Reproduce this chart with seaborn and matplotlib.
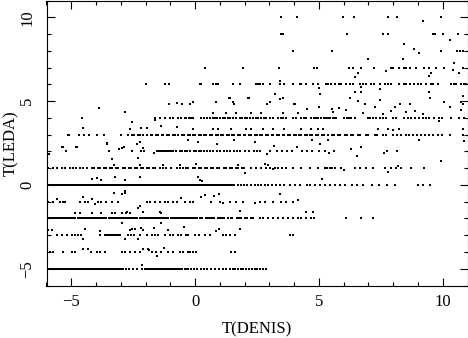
import matplotlib
matplotlib.use("Agg")
import matplotlib.pyplot as plt
from matplotlib.ticker import MultipleLocator
import numpy as np
import pandas as pd
import seaborn as sns

# T(DENIS) values of the galaxies sitting on each whole-number T(LEDA) row
row_m5 = [-5.93, -5.86, -5.80, -5.72, -5.66, -5.58, -5.52, -5.45, -5.38, -5.31, -5.25, -5.18, -5.10, -5.04,
          -4.97, -4.90, -4.83, -4.77, -4.70, -4.62, -4.56, -4.49, -4.42, -4.35, -4.29, -4.21, -4.15, -4.08,
          -4.01, -3.94, -3.88, -3.80, -3.74, -3.67, -3.60, -3.53, -3.46, -3.40, -3.33, -3.26, -3.19, -3.12,
          -3.05, -2.98, -2.91, -2.80, -2.65, -2.50, -2.33, -2.15, -2.02, -1.95, -1.88, -1.80, -1.73, -1.66,
          -1.58, -1.50, -1.43, -1.36, -1.28, -1.22, -1.14, -1.07, -1.00, -0.93, -0.86, -0.78, -0.71, -0.62,
          -0.52, -0.42, -0.36, -0.28, -0.18, -0.05, 0.06, 0.22, 0.38, 0.50, 0.66, 0.82, 0.98, 1.12, 1.26,
          1.40, 1.52, 1.62, 1.72, 1.84, 1.95, 2.05, 2.17, 2.28, 2.40, 2.52, 2.63, 2.75, 2.86]
row_m4 = [-5.86, -5.73, -5.32, -4.99, -4.85, -4.19, -3.98, -3.85, -3.64, -2.97, -2.84, -2.64, -2.43,
          -2.24, -1.76, -1.56, -1.36, -1.09, -0.89, -0.62, -0.50, -0.28, -0.19, -0.08, 0.05, 1.46, 1.60]
row_m3 = [-5.59, -5.39, -5.19, -4.99, -4.85, -4.72, -4.59, -3.85, -3.64, -3.57, -3.50, -3.44, -3.37,
          -3.30, -3.24, -3.17, -3.10, -3.04, -2.70, -2.57, -2.47, -2.24, -1.96, -1.76, -1.63, -1.49, -1.23,
          -1.02, -0.89, -0.69, -0.55, -0.35, -0.28, -0.01, 0.16, 0.39, 0.59, 1.13, 1.26, 1.40, 1.60, 3.82, 3.95]
row_m2 = [-5.97, -5.90, -5.82, -5.73, -5.66, -5.57, -5.49, -5.41, -5.33, -5.24, -5.16, -5.08, -5.00, -4.91,
          -4.83, -4.74, -4.66, -4.58, -4.49, -4.41, -4.33, -4.24, -4.16, -4.08, -3.99, -3.91, -3.83, -3.74,
          -3.66, -3.58, -3.49, -3.41, -3.33, -3.24, -3.16, -3.08, -2.99, -2.91, -2.83, -2.74, -2.66, -2.58,
          -2.49, -2.41, -2.33, -2.24, -2.16, -2.08, -1.99, -1.91, -1.83, -1.74, -1.66, -1.58, -1.49, -1.41,
          -1.33, -1.24, -1.16, -1.08, -0.99, -0.91, -0.83, -0.74, -0.66, -0.58, -0.49, -0.41, -0.33, -0.24,
          -0.16, -0.08, 0.01, 0.09, 0.18, 0.26, 0.43, 0.51, 0.59, 0.68, 0.76, 0.93, 1.01, 1.09, 1.18, 1.34,
          1.43, 1.51, 1.68, 1.76, 1.85, 2.01, 2.10, 2.26, 2.34, 2.61, 2.74, 2.94, 3.14, 3.35, 3.55, 3.75,
          3.95, 4.15, 4.29, 4.49, 4.69, 4.82, 6.10, 6.71, 7.18]
row_m1 = [-5.93, -5.73, -5.46, -5.32, -5.26, -4.65, -4.45, -4.32, -3.91, -3.78, -3.58, -3.37, -3.10,
          -1.96, -1.83, -1.63, -1.43, -1.23, -1.09, -0.89, -0.75, -0.42, -0.22, -0.08, 0.66, 0.99, 1.40,
          1.67, 1.93, 2.61, 2.81, 3.14, 3.48, 3.68, 3.95]
row_0 = [-5.97, -5.90, -5.83, -5.75, -5.68, -5.60, -5.53, -5.46, -5.38, -5.31, -5.23, -5.16, -5.09, -5.01,
         -4.94, -4.86, -4.79, -4.72, -4.64, -4.57, -4.49, -4.42, -4.35, -4.27, -4.20, -4.12, -4.05, -3.98,
         -3.90, -3.83, -3.75, -3.68, -3.61, -3.53, -3.46, -3.38, -3.31, -3.24, -3.16, -3.09, -3.01, -2.94,
         -2.87, -2.79, -2.72, -2.64, -2.57, -2.50, -2.42, -2.35, -2.27, -2.20, -2.13, -2.05, -1.98, -1.90,
         -1.83, -1.76, -1.68, -1.61, -1.53, -1.46, -1.39, -1.31, -1.24, -1.16, -1.09, -1.02, -0.94, -0.87,
         -0.79, -0.72, -0.65, -0.57, -0.50, -0.42, -0.35, -0.28, -0.20, -0.13, -0.05, 0.02, 0.09, 0.17,
         0.24, 0.32, 0.39, 0.46, 0.54, 0.61, 0.69, 0.76, 0.83, 0.91, 0.98, 1.06, 1.13, 1.20, 1.28, 1.35,
         1.43, 1.50, 1.58, 1.72, 1.85, 1.98, 2.10, 2.24, 2.40, 2.54, 2.67, 2.81, 2.94, 3.12, 3.28, 3.41,
         3.58, 3.84, 4.05, 4.25, 4.52, 4.65, 4.85, 5.05, 5.26, 5.46, 5.66, 5.86, 6.06, 6.33, 6.53, 6.80,
         7.14, 7.41, 7.74, 8.08, 9.02, 9.22, 9.49]
row_1 = [-5.93, -5.75, -5.59, -5.39, -5.26, -5.05, -4.92, -4.79, -4.65, -4.52, -4.38, -4.18, -4.10, -3.93,
         -3.85, -3.68, -3.60, -3.43, -3.35, -3.18, -3.10, -2.93, -2.85, -2.68, -2.60, -2.43, -2.35, -2.18,
         -2.10, -1.93, -1.85, -1.68, -1.60, -1.43, -1.29, -1.16, -0.96, -0.75, -0.62, -0.49, -0.35, -0.27,
         -0.10, -0.02, 0.15, 0.23, 0.40, 0.48, 0.65, 0.73, 0.90, 0.98, 1.15, 1.23, 1.40, 1.48, 1.65, 1.73,
         1.90, 1.98, 2.27, 2.47, 2.67, 2.87, 3.01, 3.21, 3.35, 3.50, 3.68, 3.95, 4.29, 4.62, 4.96, 5.23,
         5.34, 5.43, 5.53, 5.63, 5.90, 6.44, 6.64, 6.91, 7.18, 7.65, 7.92, 8.12, 8.32, 8.72, 9.26]
row_2 = [-5.23, -3.48, -2.54, -2.20, -2.07, -1.55, -1.47, -1.38, -1.30, -1.22, -1.13, -1.05, -0.96, -0.88,
         -0.78, -0.62, -0.53, -0.42, -0.33, -0.19, -0.06, 0.05, 0.15, 0.24, 0.35, 0.48, 0.60, 0.72, 0.88,
         1.02, 1.15, 1.28, 1.42, 1.56, 1.69, 1.83, 2.03, 2.16, 2.37, 2.50, 2.63, 3.04, 3.31, 3.51, 3.71,
         3.91, 4.31, 4.52, 4.72, 4.99, 5.26, 5.59, 7.74, 8.15]
row_3 = [-5.09, -4.69, -4.49, -4.29, -3.95, -3.68, -3.01, -2.70, -2.55, -2.46, -2.31, -2.24, -2.10, -1.96,
         -1.80, -1.74, -1.58, -1.51, -1.35, -1.28, -1.12, -1.05, -0.90, -0.82, -0.67, -0.52, -0.44, -0.30,
         -0.22, -0.07, 0.01, 0.16, 0.24, 0.38, 0.46, 0.61, 0.69, 0.83, 0.91, 1.06, 1.13, 1.29, 1.36, 1.51,
         1.59, 1.73, 1.81, 1.96, 2.03, 2.19, 2.26, 2.41, 2.49, 2.63, 2.71, 2.86, 2.93, 3.09, 3.16, 3.31,
         3.39, 3.53, 3.61, 3.76, 3.83, 3.99, 4.06, 4.21, 4.29, 4.43, 4.51, 4.66, 4.73, 4.89, 4.96, 5.11,
         5.22, 5.35, 5.52, 5.61, 5.78, 5.86, 6.05, 6.14, 6.30, 6.38, 6.56, 6.66, 6.90, 7.00, 7.25, 7.36,
         7.60, 7.72, 7.98, 8.15, 8.32, 8.50, 8.64, 8.80, 8.96, 9.12, 9.30, 9.45, 9.62, 9.80, 9.99, 10.30,
         10.80]
row_4 = [-4.58, -1.63, -1.43, -1.23, -1.02, -0.89, -0.69, -0.55, -0.42, -0.35, -0.25, -0.15, -0.08, 0.25,
         0.36, 0.47, 0.59, 0.72, 0.81, 0.90, 0.99, 1.13, 1.22, 1.31, 1.40, 1.53, 1.67, 1.80, 1.90, 2.00,
         2.10, 2.20, 2.34, 2.45, 2.56, 2.66, 2.77, 2.87, 3.01, 3.14, 3.35, 3.46, 3.57, 3.68, 3.95, 4.08,
         4.29, 4.40, 4.49, 4.69, 4.80, 4.90, 4.96, 5.09, 5.20, 5.29, 5.36, 5.43, 5.56, 5.63, 5.70, 6.03,
         6.12, 6.21, 6.30, 6.44, 6.97, 7.08, 7.20, 7.31, 7.45, 7.58, 7.71, 7.98, 8.12, 8.45, 8.59, 8.72,
         8.86, 9.06, 9.19, 9.33, 9.46, 9.66, 9.86, 9.99, 10.33, 10.67, 10.87]
row_6 = [-1.98, -1.22, -1.04, 0.19, 0.25, 0.72, 0.86, 0.93, 1.53, 1.80, 2.47, 2.54, 2.61, 2.74, 3.01,
         3.41, 3.61, 3.95, 4.22, 4.29, 4.49, 4.76, 4.96, 5.29, 5.36, 5.49, 5.65, 5.82, 5.90, 6.10, 6.24,
         6.37, 6.64, 6.78, 6.92, 7.11, 7.24, 7.45, 7.65, 7.78, 7.92, 8.25, 8.43, 8.52, 8.66, 8.84, 8.99,
         9.13, 9.33, 9.53, 9.62, 9.80, 10.33, 10.45, 10.55, 10.75, 10.85, 10.94]
row_7 = [0.39, 1.93, 3.39, 4.80, 4.93, 6.21, 6.37, 6.68, 7.24, 7.91, 7.98, 8.23, 8.43, 8.52, 8.66, 8.93,
         9.26, 9.46, 9.73, 10.07]
row_8 = [3.94, 5.52, 9.92, 10.59, 10.70, 10.80]
row_9 = [3.48, 3.57, 6.13, 7.58, 7.78, 9.60, 9.69, 10.02, 10.63]
row_10 = [3.48, 4.10, 5.97, 6.43, 7.78, 8.15, 9.92]

# galaxies whose T(LEDA) falls between the rows
off_x = [9.19, 10.29, 8.44, 8.82, 9.06, 6.97, 8.39, 6.59, 10.40, 10.47, 10.67, 10.81, 9.52, 7.71,
         6.71, 7.45, 3.41, 4.99, 6.44, 9.46,
         -1.06, -0.73, -0.52, -0.19, 0.86, 1.36, 1.56, 2.17, 2.90, 3.41, 3.55, 3.98, 4.05, 4.52, 4.99,
         5.52, 6.26, 6.59, 6.86, 7.26, 7.46, 8.08, 8.28, 8.68, 9.49, 10.30, 10.72, 10.83, -3.87, -2.84,
         -0.08, 1.53, 3.01, 1.40, 2.14, 3.21, 5.03, 6.44, 6.71, 9.46, 10.07, 10.81,
         0.72, 1.26, 1.67, 2.27, 2.67, 3.55, 4.15, 5.56, 5.83, 6.10, 6.78, 7.58, 7.92, 8.52, 8.86, 9.19, 10.74,
         -0.08, 0.72, 0.93, 1.46, 2.07, 2.27, 2.74, 3.14, 3.61, 4.29, 4.69, 4.96, 5.16, 7.38, 7.78, 7.98,
         8.25, 9.86, 10.81, -4.52, -2.64, -2.17, -1.96, -2.53, -1.63, -0.75, -1.36,
         -5.32, -4.79, -5.12, -3.54, -2.97, -2.24, -2.10, 5.36, 9.06, 10.87, 6.30, 6.71, -0.30, 0.10,
         0.90, 1.56, 2.43, 3.17, 4.72, 5.05,
         -5.90, -5.36, -4.76, -3.55, -3.08, -2.88, -2.34, -1.67, 2.90, 4.11, 5.39, 6.53, 7.61, -3.37, -2.30,
         -3.27, -2.24, -1.29, -0.62, 0.05, 1.73, 2.81, 2.94, 3.14, 6.03, 7.78, 8.19, 9.95, 2.00,
         -4.18, -3.98, -3.78, -3.24, -2.84, -2.24, 0.12, 0.19, 0.28, 5.12,
         -2.97, -2.84, -2.24, -0.55, -5.59, -4.52, -4.18, -4.05, 0.25, 0.39, 1.13, 2.40, 4.15, -3.28,
         -2.81, 0.75, 0.95, 3.44,
         -4.85, -4.65, -4.18, -3.78, -3.37, -3.24, -2.97, -2.77, -2.64, -1.36, -2.10, -2.30, -1.40, 1.83,
         4.49, 4.76, -2.74,
         -2.54, -2.20, -1.67, -0.45, 0.95, 1.83, -2.97, -1.36, -4.45,
         -5.93, -5.79, -3.85, -2.64, -2.43, -2.10, -1.09, 0.86, 1.80, -4.52, -2.84, -2.30,
         -1.26, -1.53, -1.87, -4.52, -4.32, -2.10, -1.90, -2.15]
off_y = [9.76, 8.66, 8.42, 8.08, 7.84, 7.49, 7.49, 6.70, 6.85, 7.25, 6.65, 6.95, 6.67, 6.80,
         5.83, 5.75, 6.17, 5.80, 6.45, 6.50,
         4.80, 4.88, 4.80, 4.84, 4.93, 5.19, 4.84, 5.19, 4.84, 5.11, 5.19, 4.84, 4.80, 4.53, 4.67,
         4.53, 5.21, 5.00, 4.84, 4.64, 5.09, 4.64, 4.80, 4.84, 5.21, 4.64, 4.93, 4.84, 4.57, 4.33,
         4.93, 4.93, 4.93, 5.20, 5.16, 5.45, 5.40, 5.53, 5.53, 5.53, 4.93, 5.33,
         4.30, 4.30, 4.30, 4.30, 4.30, 4.30, 4.30, 4.37, 4.57, 4.45, 4.30, 4.25, 4.40, 4.35, 4.40, 4.25, 4.45,
         3.33, 3.33, 3.33, 3.33, 3.33, 3.33, 3.33, 3.33, 3.33, 3.33, 3.33, 3.33, 3.33, 3.35, 3.35, 3.25,
         3.35, 3.79, 3.35, 3.40, 3.35, 3.38, 3.38, 3.73, 3.85, 3.44, 3.50,
         2.24, 2.24, 2.95, 2.50, 2.20, 2.55, 2.20, 2.70, 2.68, 2.60, 2.13, 2.25, 2.65, 2.55,
         2.45, 2.65, 2.55, 2.34, 2.65, 2.45,
         1.84, 2.28, 2.24, 2.44, 2.14, 2.24, 2.44, 1.88, 1.84, 2.24, 1.88, 1.74, 1.88, 1.54, 1.60,
         1.20, 1.20, 1.20, 1.20, 1.25, 1.20, 1.25, 1.18, 0.92, 0.90, 0.80, 1.10, 1.43, 0.74,
         0.34, 0.44, 0.28, 0.46, 0.28, 0.50, 0.50, 0.30, 0.24, 0.34,
         -0.56, -0.46, -1.26, -0.76, -0.85, -0.70, -0.85, -1.15, -0.70, -0.60, -1.10, -1.10, -0.90, -0.46,
         -0.36, -0.66, -0.56, -0.56,
         -1.68, -1.68, -1.68, -1.68, -1.68, -1.68, -1.68, -1.68, -1.68, -1.68, -1.60, -1.40, -1.60, -1.56,
         -1.60, -1.62, -1.60,
         -2.65, -2.55, -2.55, -2.50, -2.60, -2.65, -2.25, -2.30, -2.65,
         -2.70, -2.70, -2.75, -2.70, -2.60, -2.70, -2.70, -2.75, -2.65, -3.20, -3.20, -3.20,
         -3.75, -4.25, -3.86, -3.85, -3.85, -3.85, -3.80, -4.80]

rows = [(-5, row_m5), (-4, row_m4), (-3, row_m3), (-2, row_m2), (-1, row_m1), (0, row_0), (1, row_1),
        (2, row_2), (3, row_3), (4, row_4), (6, row_6), (7, row_7), (8, row_8), (9, row_9), (10, row_10)]

xs = [v for _, r in rows for v in r] + off_x
ys = [lev for lev, r in rows for _ in r] + off_y
df = pd.DataFrame({"T(DENIS)": xs, "T(LEDA)": ys})

sns.set_theme(style="ticks")
plt.rcParams["font.family"] = ["Liberation Serif", "DejaVu Serif"]
plt.rcParams["font.size"] = 12
plt.rcParams["axes.edgecolor"] = "black"
plt.rcParams["axes.linewidth"] = 0.8

fig = plt.figure(figsize=(4.68, 3.38), dpi=100)
ax = fig.add_axes([46.5 / 468, 1 - 285.5 / 338, 421 / 468, 285 / 338])
sns.scatterplot(data=df, x="T(DENIS)", y="T(LEDA)", s=1.4, marker="s", color="black",
                linewidth=0, antialiased=False, ax=ax)

ax.set_xlim(-6, 11)
ax.set_ylim(-6, 11)
for axis in (ax.xaxis, ax.yaxis):
    axis.set_major_locator(MultipleLocator(5))
    axis.set_minor_locator(MultipleLocator(1))
ax.tick_params(which="both", direction="in", top=True, right=True, color="black", width=0.8,
               labelsize=12, labelcolor="black")
ax.tick_params(which="major", length=5.8)
ax.tick_params(which="minor", length=2.9)
ax.tick_params(axis="x", pad=6)
ax.tick_params(axis="y", pad=8)
for lab in ax.get_yticklabels():
    lab.set_rotation(90)
    lab.set_verticalalignment("center")

ax.set_xlabel("T(DENIS)", fontsize=12, color="black")
ax.set_ylabel("T(LEDA)", fontsize=12, color="black")
ax.xaxis.set_label_coords(0.5, -0.125)
ax.yaxis.set_label_coords(-0.066, 0.5)

fig.savefig("out.png", dpi=100)
